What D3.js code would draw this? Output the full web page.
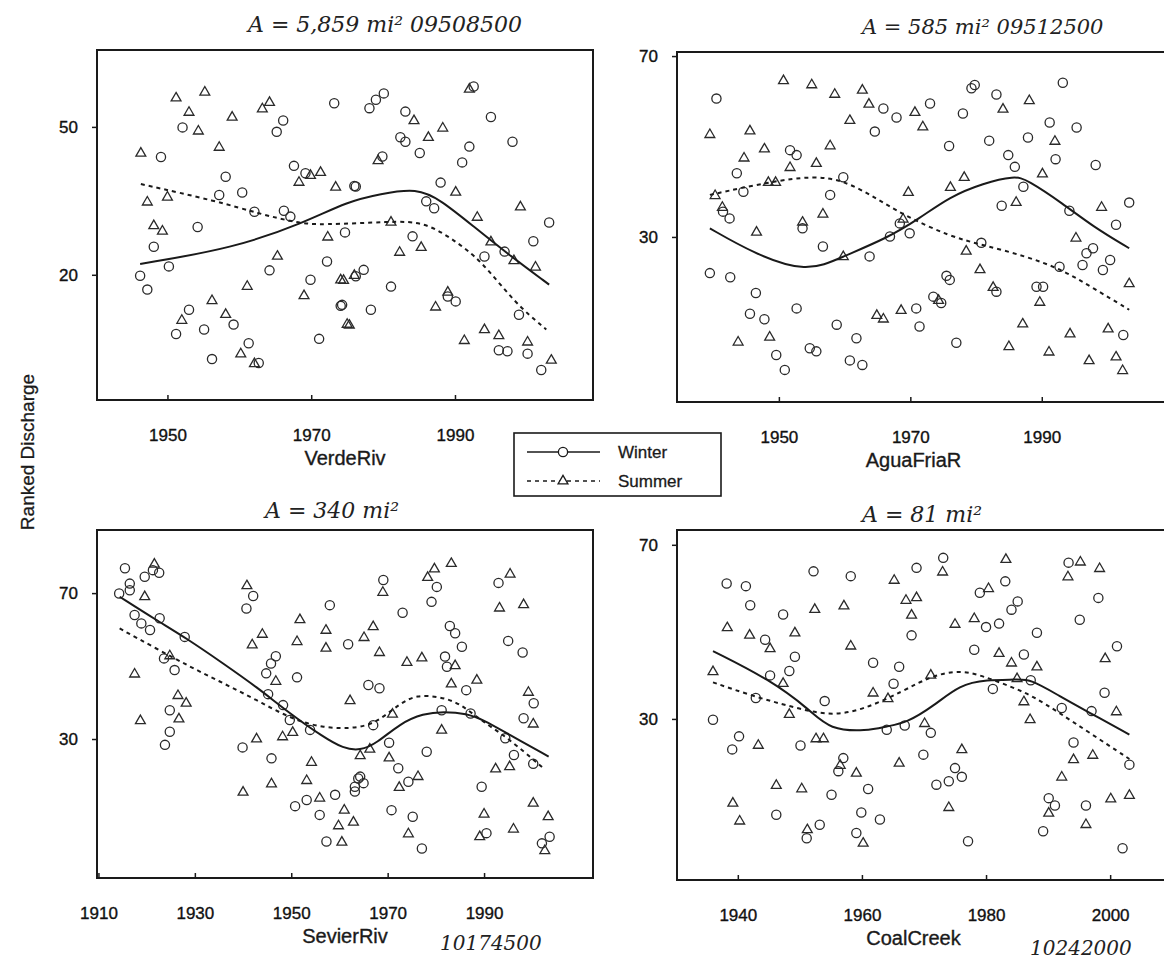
<!DOCTYPE html>
<html>
<head>
<meta charset="utf-8">
<script src="https://cdn.jsdelivr.net/npm/d3@7"></script>
<style>
  body { margin: 0; background: #fff; }
  svg { display: block; }
  .tick-label { font-family: "Liberation Sans", Arial, sans-serif; font-size: 17px; fill: #111; stroke: #111; stroke-width: 0.35px; }
  .hand { font-family: "DejaVu Serif", serif; font-style: italic; fill: #222; }
</style>
</head>
<body>
<svg id="chart"></svg>
<script>
// ---- data: [year, rank] ----
const verdeWinter = [[1952.1,49.9],[1966.1,51.3],[1965.2,49.0],[1973.2,54.8],[1949.1,43.9],[1958.1,39.9],[1967.6,42.1],[1969.2,40.6],[1976.0,38.0],[1960.4,36.7],[1957.2,36.2],[1962.1,32.8],[1966.2,33.0],[1967.1,31.8],[1954.2,29.7],[1948.1,25.7],[1964.2,20.9],[1972.2,22.7],[1950.2,21.7],[1946.2,19.8],[1947.2,17.0],[1969.9,19.0],[1953.0,12.9],[1974.1,13.7],[1959.2,9.9],[1951.2,8.0],[1955.1,8.9],[1971.1,7.0],[1961.3,6.1],[1962.7,2.1],[1956.2,2.9],
  [1978.1,53.8],[1979.0,55.5],[1980.1,56.8],[1983.1,53.1],[1982.4,47.9],[1983.1,47.0],[1985.1,44.7],[1979.9,44.0],[1992.6,58.2],[1995.0,52.0],[1998.0,47.0],[1992.0,46.0],[1991.0,42.8],[1976.2,37.9],[1988.0,38.7],[1986.0,34.9],[1987.1,33.5],[2003.1,30.6],[2000.9,26.8],[1996.9,24.7],[1974.7,28.6],[1984.1,27.8],[1994.1,23.7],[1976.2,19.7],[1977.3,21.0],[1981.1,17.6],[1974.3,13.9],[1978.3,12.9],[1989.0,15.6],[1990.1,14.6],[1998.9,11.9],[1996.1,4.7],[1997.3,4.5],[2000.1,4.0],[2002.0,0.7]];
const verdeSummer = [[1951.2,56.0],[1955.2,57.2],[1953.0,53.1],[1954.3,49.3],[1959.0,52.1],[1963.2,53.8],[1964.2,55.1],[1957.2,46.0],[1946.3,44.8],[1947.2,34.9],[1950.0,35.9],[1948.1,30.1],[1949.3,29.0],[1969.9,40.3],[1971.3,40.9],[1968.3,38.9],[1973.4,37.9],[1972.3,27.8],[1965.3,23.9],[1961.1,17.8],[1974.1,19.1],[1976.0,20.0],[1969.0,15.9],[1956.2,14.9],[1952.0,10.9],[1958.1,12.1],[1975.0,10.1],[1960.2,4.1],[1962.1,2.1],
  [1984.3,51.4],[1988.3,49.9],[1986.3,48.0],[1979.3,43.3],[1992.0,57.8],[1990.1,36.9],[1999.1,33.9],[1993.1,31.8],[1995.0,26.8],[1998.2,23.0],[2001.2,21.7],[1981.1,30.8],[1985.3,25.7],[1982.3,24.7],[1974.5,19.0],[1975.3,9.9],[1989.0,16.6],[1987.3,13.6],[1994.1,9.0],[1996.1,7.8],[1991.3,6.8],[2000.1,6.5],[2003.4,2.8]];
const verdeWinterFit = [[1946.2,22.2],[1959.2,25.4],[1968.9,30.5],[1975.1,34.9],[1979.6,36.4],[1984.7,37.6],[1988.0,35.2],[1992.6,29.8],[1997.2,24.4],[2003.1,18.0]];
const verdeSummerFit = [[1946.3,38.4],[1957.0,34.9],[1962.5,32.5],[1968.1,30.5],[1971.3,30.1],[1981.1,30.8],[1985.7,30.8],[1989.8,27.1],[1993.6,23.0],[1998.3,14.3],[2002.7,8.9]];

const aguaWinter = [[1940.5,60.6],[1964.6,53.3],[1965.9,58.4],[1967.9,56.4],[1951.7,49.2],[1952.7,48.1],[1943.6,44.1],[1944.6,40.0],[1959.8,43.2],[1957.8,39.3],[1941.5,35.6],[1942.5,34.1],[1953.6,31.9],[1956.7,27.9],[1963.8,25.7],[1966.9,30.1],[1969.9,30.8],[1968.4,33.0],[1939.5,22.0],[1942.6,21.1],[1946.5,17.6],[1952.7,14.2],[1945.6,13.0],[1947.8,11.8],[1958.8,10.6],[1961.8,7.6],[1949.6,3.9],[1950.9,0.6],[1954.7,5.4],[1955.7,4.7],[1960.8,2.7],[1962.7,1.7],[1970.9,14.2],[1971.4,10.2],
  [1979.3,62.9],[1979.8,63.6],[1993.2,64.1],[1983.1,61.5],[1973.0,59.5],[1978.0,57.3],[1991.2,55.3],[1995.3,54.2],[1975.9,50.1],[1982.0,51.3],[1987.9,52.0],[1984.9,48.1],[1985.9,45.5],[1992.1,47.2],[1998.2,45.9],[1987.2,41.1],[1983.9,36.9],[1994.2,35.8],[2003.3,37.6],[2001.3,32.7],[1980.8,28.7],[1997.8,27.5],[1996.8,26.4],[2000.4,24.9],[1999.3,22.7],[1996.2,23.8],[1992.7,23.4],[1975.5,21.4],[1976.0,20.5],[1973.5,16.8],[1974.7,15.4],[1989.2,19.0],[1990.2,19.0],[1983.1,17.9],[1977.0,6.6],[2002.4,8.3]];
const aguaSummer = [[1950.7,64.7],[1955.0,63.8],[1958.5,61.7],[1962.7,62.6],[1963.7,59.5],[1960.8,55.9],[1970.7,57.7],[1939.5,52.8],[1945.6,53.6],[1947.8,49.6],[1957.8,50.3],[1944.7,47.6],[1951.7,45.5],[1955.7,46.4],[1948.4,42.2],[1949.5,42.2],[1940.3,39.3],[1941.4,36.7],[1956.7,35.2],[1953.6,33.4],[1946.6,31.2],[1969.7,40.0],[1959.8,25.8],[1968.9,34.1],[1968.6,13.9],[1964.9,12.8],[1965.9,12.0],[1943.8,6.9],[1948.6,8.0],
  [1971.9,54.5],[1984.1,58.4],[1988.1,60.3],[1992.0,51.3],[1978.2,43.3],[1976.1,41.1],[1990.1,44.1],[1986.1,37.8],[1999.1,36.7],[1995.2,29.9],[1978.5,27.0],[1980.6,22.9],[1982.6,19.0],[1989.7,15.7],[2003.3,19.8],[1987.1,10.9],[1994.3,8.7],[2000.1,9.8],[1985.0,5.9],[1991.1,4.7],[1997.2,2.8],[2001.3,3.6],[2002.3,0.6],[1974.3,16.1]];
const aguaWinterFit = [[1939.5,31.9],[1946.1,26.4],[1954.2,22.0],[1959.8,25.7],[1966.4,29.7],[1971.4,34.1],[1976.0,38.9],[1981.1,41.9],[1985.9,43.5],[1987.7,42.7],[1993.2,37.4],[1997.8,32.3],[2003.3,27.5]];
const aguaSummerFit = [[1939.5,39.3],[1948.6,42.2],[1955.2,43.5],[1959.8,42.6],[1964.9,38.5],[1968.9,34.9],[1976.0,30.1],[1981.1,28.2],[1987.7,25.7],[1993.2,22.7],[1997.8,18.7],[2003.3,13.9]];

const sevierWinter = [[1915.5,76.8],[1919.6,74.5],[1921.3,76.3],[1922.6,75.6],[1916.5,72.6],[1916.5,70.8],[1914.3,69.9],[1917.5,64.0],[1918.9,61.7],[1920.7,59.9],[1922.7,63.1],[1927.9,58.0],[1923.6,52.1],[1925.8,48.9],[1924.8,37.9],[1924.8,32.0],[1923.8,28.4],[1942.1,69.2],[1940.7,65.8],[1958.0,66.7],[1961.8,56.0],[1946.8,52.7],[1945.8,50.7],[1944.8,48.0],[1951.2,46.9],[1945.2,42.3],[1948.3,39.3],[1949.7,35.2],[1953.9,32.5],[1939.9,27.7],[1945.9,24.7],[1959.1,14.7],[1963.2,15.6],[1953.2,13.3],[1955.9,9.2],[1957.3,1.9],[1950.8,11.6],[1963.9,19.2],
  [1969.1,73.6],[1979.1,67.6],[1980.2,71.7],[1973.1,64.6],[1993.0,72.8],[1982.9,61.0],[1984.0,59.0],[1985.4,55.3],[1982.3,49.8],[1981.9,52.6],[1995.0,56.9],[1998.0,53.7],[1966.0,44.8],[1968.3,43.9],[1986.3,43.4],[2000.3,39.8],[1998.2,35.7],[1981.2,37.9],[1987.2,37.0],[1967.0,33.8],[1970.3,29.0],[1978.1,26.5],[1994.4,30.2],[1996.2,25.6],[2000.2,23.2],[1972.2,22.0],[1974.3,18.3],[1964.3,19.7],[1963.2,16.9],[1965.0,17.9],[1989.5,16.9],[1970.8,10.5],[1975.2,8.7],[1990.5,4.2],[1977.1,0.0],[2003.6,3.2],[2002.0,1.4]];
const sevierSummer = [[1921.6,78.1],[1919.6,69.2],[1917.5,48.0],[1918.7,35.2],[1926.5,42.1],[1928.2,40.0],[1926.7,35.7],[1924.8,53.0],[1940.8,72.2],[1944.0,58.9],[1941.9,56.0],[1951.2,56.9],[1957.2,60.0],[1957.2,55.1],[1951.8,62.9],[1962.2,40.7],[1946.8,46.0],[1948.2,30.8],[1950.3,32.0],[1942.8,30.2],[1954.2,23.8],[1945.9,17.9],[1953.2,18.8],[1940.0,15.6],[1955.9,14.0],[1961.0,10.7],[1959.8,6.4],[1960.5,1.9],
  [1969.0,70.4],[1978.3,74.5],[1979.7,76.8],[1983.2,78.3],[1995.4,75.4],[1993.2,66.1],[1998.2,67.0],[1967.0,61.0],[1965.1,58.0],[1968.3,53.9],[1974.0,51.2],[1977.1,52.4],[1984.0,50.3],[1983.2,45.3],[1988.5,46.3],[1999.2,43.0],[1971.0,37.0],[1981.2,32.6],[2000.2,34.3],[1970.3,25.0],[1966.3,27.4],[1964.3,25.6],[1995.3,22.6],[1992.4,22.0],[1976.3,19.9],[1972.4,16.9],[2000.2,12.6],[2003.3,8.9],[1996.1,5.5],[1990.0,9.6],[1989.1,3.4],[1974.3,4.2],[1962.9,7.4],[2002.6,-0.4]];
const sevierWinterFit = [[1914.4,69.0],[1922.0,62.6],[1928.3,57.6],[1935.9,50.7],[1942.8,44.3],[1949.7,37.0],[1956.6,30.6],[1960.8,27.4],[1964.3,26.8],[1967.7,28.8],[1972.6,34.3],[1977.4,37.0],[1981.6,37.5],[1986.4,37.0],[1989.9,35.2],[1994.7,31.6],[2003.4,25.2]];
const sevierSummerFit = [[1914.4,60.3],[1922.0,54.8],[1929.0,49.8],[1935.9,45.3],[1942.8,40.7],[1949.7,35.7],[1956.6,32.9],[1964.3,32.9],[1968.4,35.2],[1972.6,39.8],[1976.0,42.1],[1980.9,41.6],[1985.0,39.8],[1989.2,35.2],[1994.7,30.6],[2002.3,22.0]];

const coalWinter = [[1938.2,61.1],[1941.3,60.5],[1952.2,63.9],[1958.2,62.8],[1968.8,64.7],[1942.0,56.1],[1947.3,54.0],[1944.4,48.2],[1968.0,49.2],[1949.2,44.3],[1945.2,40.0],[1948.3,41.0],[1961.8,42.9],[1966.0,42.0],[1965.1,38.1],[1954.0,34.1],[1942.9,34.8],[1936.0,29.8],[1940.2,26.0],[1939.1,23.0],[1950.1,23.9],[1964.0,27.5],[1966.9,28.5],[1969.9,21.8],[1957.0,21.0],[1956.2,18.0],[1961.0,13.9],[1955.1,12.6],[1959.9,8.5],[1962.9,6.9],[1946.2,8.0],[1953.2,5.7],[1951.1,2.6],[1959.1,3.8],
  [1973.1,67.0],[1983.1,61.6],[1979.0,59.0],[1985.1,57.0],[1984.1,55.1],[1980.0,51.1],[1982.1,51.9],[1988.2,49.8],[1993.3,65.9],[1998.1,57.8],[1995.1,52.8],[2001.1,46.7],[1978.1,45.9],[1986.1,44.8],[1981.1,36.9],[1987.2,38.9],[1992.2,32.5],[1999.1,36.0],[1997.0,31.8],[1971.1,26.8],[1994.1,24.6],[2003.1,19.5],[1975.0,18.7],[1976.1,16.7],[1974.0,15.7],[1972.0,14.9],[1990.1,11.8],[1991.1,10.1],[1996.1,10.1],[1989.2,4.2],[1977.1,1.9],[2002.0,0.3]];
const coalSummer = [[1965.2,62.0],[1952.4,55.3],[1957.1,56.1],[1967.1,57.4],[1968.8,58.0],[1968.0,54.0],[1938.3,51.1],[1941.9,49.4],[1949.2,49.9],[1945.2,46.3],[1958.2,46.9],[1936.0,41.0],[1947.3,38.3],[1948.3,31.2],[1961.8,36.1],[1964.2,34.8],[1952.6,25.6],[1953.8,25.6],[1943.3,24.1],[1956.5,19.5],[1959.1,17.7],[1966.0,20.0],[1946.2,14.9],[1950.3,14.1],[1939.2,10.8],[1940.3,6.7],[1951.2,4.7],[1960.2,1.6],
  [1983.2,66.8],[1973.0,63.9],[1995.2,66.2],[1993.2,62.8],[1998.3,64.7],[1980.4,60.1],[1975.0,51.9],[1978.1,53.2],[1982.1,45.2],[1984.1,43.0],[1988.2,42.1],[1999.2,44.0],[1971.1,40.2],[1985.0,39.4],[1986.1,34.1],[1987.1,30.0],[2001.0,31.8],[1970.1,29.1],[1976.1,23.1],[1994.1,20.8],[1997.2,21.8],[1992.2,16.8],[2000.1,11.8],[2003.1,12.6],[1974.0,9.8],[1990.1,8.5],[1996.1,5.9]];
const coalWinterFit = [[1936.0,45.6],[1945.2,39.0],[1951.6,32.1],[1954.8,27.5],[1960.8,27.2],[1964.0,28.3],[1967.2,29.1],[1971.5,32.9],[1975.8,37.9],[1980.1,39.0],[1984.9,39.0],[1987.1,39.2],[1991.9,35.2],[1996.2,31.8],[2003.1,26.4]];
const coalSummerFit = [[1936.0,38.4],[1942.5,35.2],[1948.4,32.9],[1954.8,30.6],[1960.2,32.1],[1966.7,36.4],[1971.0,39.8],[1975.8,41.3],[1979.6,39.8],[1983.9,37.5],[1987.6,35.2],[1991.8,31.4],[1996.7,26.8],[2003.1,20.8]];

const verdeXTicks = [1950, 1970, 1990], verdeYTicks = [20, 50];
const aguaXTicks = [1950, 1970, 1990], aguaYTicks = [30, 70];
const sevierXTicks = [1910, 1930, 1950, 1970, 1990], sevierYTicks = [30, 70];
const coalXTicks = [1940, 1960, 1980, 2000], coalYTicks = [30, 70];

const panelNames = ["VerdeRiv", "AguaFriaR", "SevierRiv", "CoalCreek"];
const seriesNames = ["Winter", "Summer"];

// ---- layout ----
const W = 1164, H = 973;
const svg = d3.select("#chart").attr("width", W).attr("height", H);

const panels = [
  { name: panelNames[0], w: verdeWinter, s: verdeSummer, wf: verdeWinterFit, sf: verdeSummerFit,
    box: [97, 593, 50, 400], xd: [1940.2, 2009.2], yd: [-5.4, 65.6], xt: verdeXTicks, yt: verdeYTicks },
  { name: panelNames[1], w: aguaWinter, s: aguaSummer, wf: aguaWinterFit, sf: aguaSummerFit,
    box: [677, 1166, 52, 402], xd: [1934.5, 2008.9], yd: [-6.5, 70.9], xt: aguaXTicks, yt: aguaYTicks },
  { name: panelNames[2], w: sevierWinter, s: sevierSummer, wf: sevierWinterFit, sf: sevierSummerFit,
    box: [97, 593, 530, 878], xd: [1909.7, 2012.6], yd: [-8.1, 87.3], xt: sevierXTicks, yt: sevierYTicks },
  { name: panelNames[3], w: coalWinter, s: coalSummer, wf: coalWinterFit, sf: coalSummerFit,
    box: [677, 1166, 530, 880], xd: [1930.2, 2009.0], yd: [-7.0, 73.4], xt: coalXTicks, yt: coalYTicks }
];

const ink = "#1a1a1a";
const tri = d3.symbol().type(d3.symbolTriangle).size(42);

panels.forEach(function (p) {
  const [x0, x1, y0, y1] = p.box;
  const x = d3.scaleLinear().domain(p.xd).range([x0, x1]);
  const y = d3.scaleLinear().domain(p.yd).range([y1, y0]);
  const g = svg.append("g");

  // frame
  g.append("rect")
    .attr("x", x0).attr("y", y0).attr("width", x1 - x0).attr("height", y1 - y0)
    .attr("fill", "none").attr("stroke", ink).attr("stroke-width", 2);

  // axes
  g.append("g")
    .attr("transform", `translate(0,${y1})`)
    .call(d3.axisBottom(x).tickValues(p.xt).tickFormat(d3.format("d")).tickSize(-5).tickPadding(38))
    .call(a => a.select(".domain").remove())
    .call(a => a.selectAll("line").attr("stroke", ink).attr("stroke-width", 1.5))
    .call(a => a.selectAll("text").attr("class", "tick-label").attr("fill", ink).attr("dy", "0.2em"));

  g.append("g")
    .attr("transform", `translate(${x0},0)`)
    .call(d3.axisLeft(y).tickValues(p.yt).tickSize(5).tickPadding(14))
    .call(a => a.select(".domain").remove())
    .call(a => a.selectAll("line").attr("stroke", ink).attr("stroke-width", 1.5))
    .call(a => a.selectAll("text").attr("class", "tick-label").attr("fill", ink));

  // panel name under the axis
  svg.append("text")
    .attr("x", (x0 + Math.min(x1, 1160)) / 2 + (x0 > 600 ? -5 : 0))
    .attr("y", y1 + 65)
    .attr("text-anchor", "middle")
    .style("font-family", "Liberation Sans, Arial, sans-serif")
    .style("font-size", "20px")
    .attr("fill", ink).attr("stroke", ink).attr("stroke-width", 0.35)
    .text(p.name);

  const clip = "clip" + p.name;
  svg.append("clipPath").attr("id", clip)
    .append("rect").attr("x", x0).attr("y", y0).attr("width", x1 - x0).attr("height", y1 - y0);
  const inner = g.append("g").attr("clip-path", `url(#${clip})`);

  // points
  inner.selectAll(".w").data(p.w).join("circle")
    .attr("cx", d => x(d[0])).attr("cy", d => y(d[1])).attr("r", 4.6)
    .attr("fill", "none").attr("stroke", "#2a2a2a").attr("stroke-width", 1.3);

  inner.selectAll(".s").data(p.s).join("path")
    .attr("d", tri)
    .attr("transform", d => `translate(${x(d[0])},${y(d[1]) + 0.8})`)
    .attr("fill", "none").attr("stroke", "#2a2a2a").attr("stroke-width", 1.3);

  // smooth fits
  const line = d3.line().x(d => x(d[0])).y(d => y(d[1])).curve(d3.curveBasis);
  inner.append("path").datum(p.wf).attr("d", line)
    .attr("fill", "none").attr("stroke", ink).attr("stroke-width", 2);
  inner.append("path").datum(p.sf).attr("d", line)
    .attr("fill", "none").attr("stroke", ink).attr("stroke-width", 2).attr("stroke-dasharray", "4,4");
});

// y axis title
svg.append("text")
  .attr("transform", "translate(34,452) rotate(-90)")
  .attr("text-anchor", "middle")
  .style("font-family", "Liberation Sans, Arial, sans-serif")
  .style("font-size", "19px")
  .attr("fill", ink).attr("stroke", ink).attr("stroke-width", 0.3)
  .text("Ranked Discharge");

// legend
const lg = svg.append("g");
lg.append("rect").attr("x", 514).attr("y", 433).attr("width", 207).attr("height", 63)
  .attr("fill", "#fff").attr("stroke", ink).attr("stroke-width", 1.6);
[0, 1].forEach(function (i) {
  const ly = 452 + i * 29;
  lg.append("line").attr("x1", 527).attr("x2", 600).attr("y1", ly).attr("y2", ly)
    .attr("stroke", ink).attr("stroke-width", 1.4).attr("stroke-dasharray", i ? "4,4" : null);
  if (i === 0) {
    lg.append("circle").attr("cx", 563).attr("cy", ly).attr("r", 4.6)
      .attr("fill", "#fff").attr("stroke", ink).attr("stroke-width", 1.3);
  } else {
    lg.append("path").attr("d", tri).attr("transform", `translate(563,${ly})`)
      .attr("fill", "#fff").attr("stroke", ink).attr("stroke-width", 1.3);
  }
  lg.append("text").attr("x", 618).attr("y", ly + 6)
    .style("font-family", "Liberation Sans, Arial, sans-serif").style("font-size", "17px")
    .attr("fill", ink).attr("stroke", ink).attr("stroke-width", 0.3).text(seriesNames[i]);
});

// handwritten notes
const notes = [
  ["A =  5,859 mi² 09508500", 248, 32, 22],
  ["A = 585 mi² 09512500", 862, 34, 21],
  ["A = 340  mi²", 265, 518, 22],
  ["A = 81  mi²", 862, 522, 22],
  ["10174500", 440, 950, 20],
  ["10242000", 1030, 955, 20]
];
notes.forEach(function (n) {
  svg.append("text").attr("class", "hand")
    .attr("x", n[1]).attr("y", n[2]).style("font-size", n[3] + "px").text(n[0]);
});
</script>
</body>
</html>
